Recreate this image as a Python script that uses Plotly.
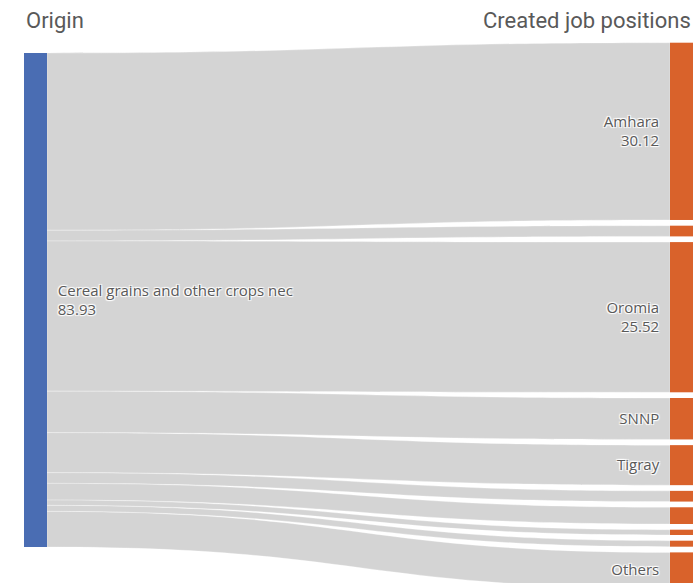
import plotly.graph_objects as go

# ---- data ----
source_name = "Cereal grains and other crops nec"
target_names = ["Amhara", "", "Oromia", "SNNP", "Tigray", "", "", "", "", "Others"]
target_values = [30.12, 1.82, 25.52, 7.04, 6.80, 1.82, 2.84, 0.90, 1.02, 6.05]
show_value = [True, False, True, False, False, False, False, False, False, False]
header_left = "Origin"
header_right = "Created job positions"

# ---- layout settings ----
FIG_W, FIG_H = 700, 583
M_L, M_R, M_T, M_B = 24, 7, 53, 36
W = FIG_W - M_L - M_R
H = FIG_H - M_T - M_B
THICK = 23
GAP = 5.7      # px gap between target nodes
TOP = -10.3    # px offset of first target node above plot top
PAD = "\u00a0\u00a0"   # spacing between node and its label
FONT = "Open Sans"

total = sum(target_values)
ky = H / total

# node positions (centers as fraction), derived from values
tx, ty = [], []
y = TOP
for v in target_values:
    h = v * ky
    tx.append((W - THICK / 2) / W)
    ty.append((y + h / 2) / H)
    y += h + GAP

labels = [f"{PAD}{source_name}<br>{PAD}{total:.2f}"]
for n, v, s in zip(target_names, target_values, show_value):
    if not n:
        labels.append("")
    elif s:
        labels.append(f"{n}{PAD}<br>{v:.2f}{PAD}")
    else:
        labels.append(f"{n}{PAD}")

node_x = [THICK / 2 / W] + tx
node_y = [0.5] + ty
node_colors = ["#4a6db3"] + ["#d9622b"] * len(target_values)

fig = go.Figure(go.Sankey(
    arrangement="fixed",
    node=dict(
        label=labels,
        x=node_x,
        y=node_y,
        pad=0,
        thickness=THICK,
        color=node_colors,
        line=dict(width=0, color="white"),
    ),
    link=dict(
        source=[0] * len(target_values),
        target=list(range(1, len(target_values) + 1)),
        value=target_values,
        color="#d4d4d4",
        line=dict(width=0.3, color="white"),
    ),
    textfont=dict(family=FONT, size=15, color="#595959"),
))

fig.update_layout(
    width=FIG_W, height=FIG_H,
    margin=dict(l=M_L, r=M_R, t=M_T, b=M_B),
    paper_bgcolor="white", plot_bgcolor="white",
    annotations=[
        dict(text=header_left, x=0, y=1, xref="paper", yref="paper",
             xanchor="left", yanchor="middle", yshift=33, showarrow=False,
             font=dict(family="Roboto", size=22, color="#595959")),
        dict(text=header_right, x=1, y=1, xref="paper", yref="paper",
             xanchor="right", yanchor="middle", yshift=33, showarrow=False,
             font=dict(family="Roboto", size=22, color="#595959")),
    ],
)

fig.write_html("out.html")
